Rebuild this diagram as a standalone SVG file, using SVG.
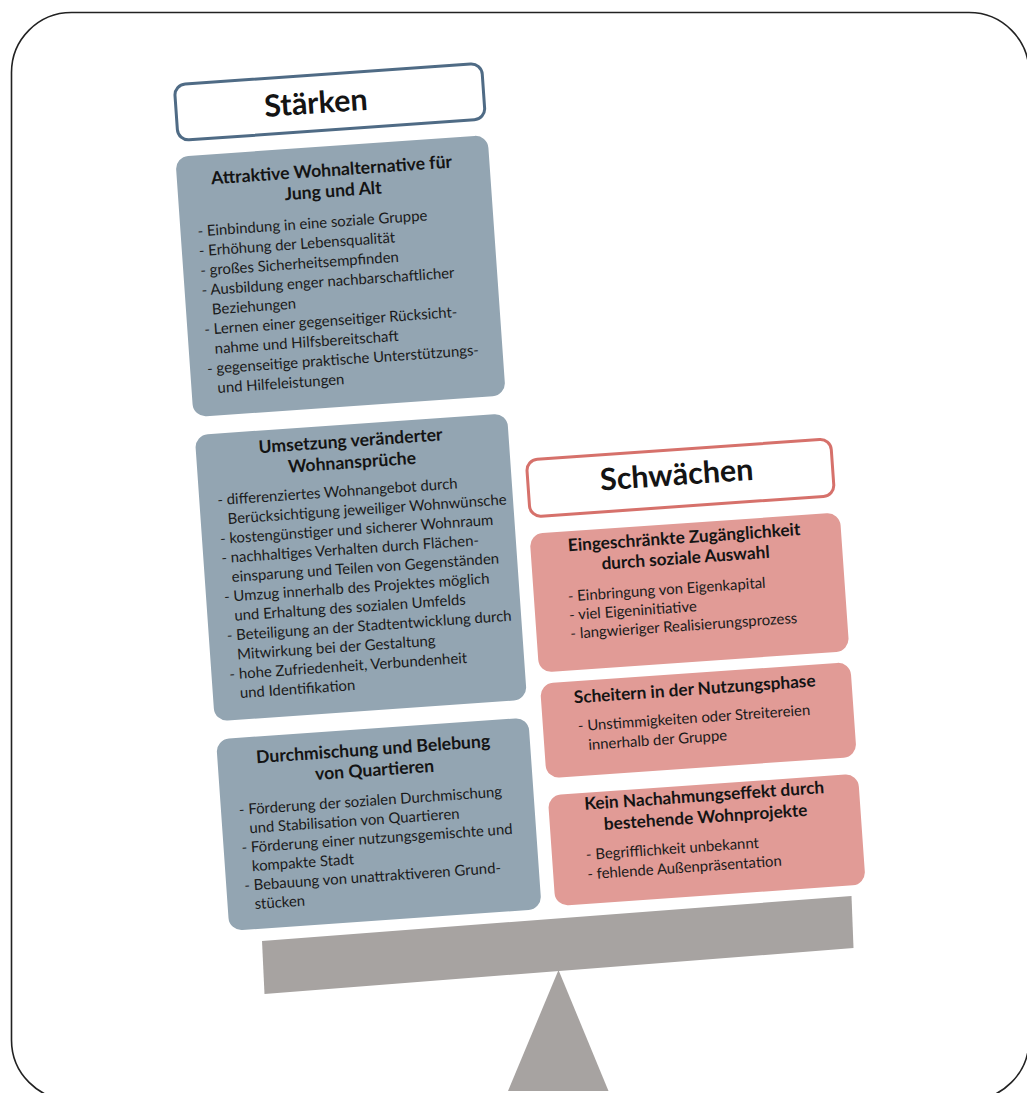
<svg xmlns="http://www.w3.org/2000/svg" width="1027" height="1093" viewBox="0 0 1027 1093">
<style>
.frame{fill:#ffffff;stroke:#222222;stroke-width:1.6}
.hdrS{fill:#ffffff;stroke:#4f6b85;stroke-width:3}
.hdrW{fill:#ffffff;stroke:#d6716b;stroke-width:3}
.boxS{fill:#93a5b2}
.boxW{fill:#e19b96}
.hdrT{font-family:Lato,"Liberation Sans",sans-serif;font-weight:bold;font-size:30.5px;fill:#141414;text-anchor:middle}
.ttl{font-family:Lato,"Liberation Sans",sans-serif;font-weight:bold;font-size:17.6px;fill:#141414;text-anchor:middle}
.ttlW{font-family:Lato,"Liberation Sans",sans-serif;font-weight:bold;font-size:17.2px;fill:#141414;text-anchor:middle}
.bd{font-family:Lato,"Liberation Sans",sans-serif;font-size:14.9px;fill:#1a1a1a}
.bal{fill:#a7a3a1}
</style>
<rect class="frame" x="11.5" y="12.5" width="1017.5" height="1087.5" rx="60" ry="60"/>
<g id="balance">
<polygon class="bal" points="262,941 851.5,896 853.5,948 264.5,994"/>
<polygon class="bal" points="558.5,970 608.5,1091 508,1091"/>
</g>
<g transform="rotate(-4 500 500)">
<g id="staerken-header">
<rect class="hdrS" x="204" y="63" width="308" height="56" rx="11" ry="11"/>
<text class="hdrT" x="344" y="101.5">Stärken</text>
</g>
<g id="staerke-1">
<rect class="boxS" x="200" y="135" width="313" height="261" rx="13" ry="13"/>
<text class="ttl" x="355" y="165">Attraktive Wohnalternative für</text>
<text class="ttl" x="355" y="186">Jung und Alt</text>
<text class="bd" x="217" y="216">- Einbindung in eine soziale Gruppe</text>
<text class="bd" x="217" y="235.7">- Erhöhung der Lebensqualität</text>
<text class="bd" x="217" y="255.4">- großes Sicherheitsempfinden</text>
<text class="bd" x="217" y="275.1">- Ausbildung enger nachbarschaftlicher</text>
<text class="bd" x="226" y="294.8">Beziehungen</text>
<text class="bd" x="217" y="314.5">- Lernen einer gegenseitiger Rücksicht-</text>
<text class="bd" x="226" y="334.2">nahme und Hilfsbereitschaft</text>
<text class="bd" x="217" y="353.9">- gegenseitige praktische Unterstützungs-</text>
<text class="bd" x="226" y="373.6">und Hilfeleistungen</text>
</g>
<g id="staerke-2">
<rect class="boxS" x="200" y="414" width="313" height="287" rx="13" ry="13"/>
<text class="ttl" x="355" y="436.5">Umsetzung veränderter</text>
<text class="ttl" x="355" y="458">Wohnansprüche</text>
<text class="bd" x="218" y="485.5">- differenziertes Wohnangebot durch</text>
<text class="bd" x="227" y="504.9">Berücksichtigung jeweiliger Wohnwünsche</text>
<text class="bd" x="218" y="524.3">- kostengünstiger und sicherer Wohnraum</text>
<text class="bd" x="218" y="543.7">- nachhaltiges Verhalten durch Flächen-</text>
<text class="bd" x="227" y="563.1">einsparung und Teilen von Gegenständen</text>
<text class="bd" x="218" y="582.5">- Umzug innerhalb des Projektes möglich</text>
<text class="bd" x="227" y="601.9">und Erhaltung des sozialen Umfelds</text>
<text class="bd" x="218" y="621.3">- Beteiligung an der Stadtentwicklung durch</text>
<text class="bd" x="227" y="640.7">Mitwirkung bei der Gestaltung</text>
<text class="bd" x="218" y="660.1">- hohe Zufriedenheit, Verbundenheit</text>
<text class="bd" x="227" y="679.5">und Identifikation</text>
</g>
<g id="staerke-3">
<rect class="boxS" x="200" y="719" width="313" height="192" rx="13" ry="13"/>
<text class="ttl" x="356" y="745.6">Durchmischung und Belebung</text>
<text class="ttl" x="356" y="766.5">von Quartieren</text>
<text class="bd" x="218" y="796">- Förderung der sozialen Durchmischung</text>
<text class="bd" x="227" y="815">und Stabilisation von Quartieren</text>
<text class="bd" x="218" y="834">- Förderung einer nutzungsgemischte und</text>
<text class="bd" x="227" y="853">kompakte Stadt</text>
<text class="bd" x="218" y="872">- Bebauung von unattraktiveren Grund-</text>
<text class="bd" x="227" y="891">stücken</text>
</g>
<g id="schwaechen-header">
<rect class="hdrW" x="529" y="462" width="305" height="57" rx="11" ry="11"/>
<text class="hdrT" x="678" y="497.5">Schwächen</text>
</g>
<g id="schwaeche-1">
<rect class="boxW" x="527" y="536" width="311" height="139" rx="13" ry="13"/>
<text class="ttlW" x="681" y="556">Eingeschränkte Zugänglichkeit</text>
<text class="ttlW" x="681" y="576.5">durch soziale Auswahl</text>
<text class="bd" x="561" y="606">- Einbringung von Eigenkapital</text>
<text class="bd" x="561" y="624.7">- viel Eigeninitiative</text>
<text class="bd" x="561" y="643.4">- langwieriger Realisierungsprozess</text>
</g>
<g id="schwaeche-2">
<rect class="boxW" x="527" y="686" width="311" height="95" rx="13" ry="13"/>
<text class="ttlW" x="681" y="708">Scheitern in der Nutzungsphase</text>
<text class="bd" x="562" y="736">- Unstimmigkeiten oder Streitereien</text>
<text class="bd" x="571" y="755.5">innerhalb der Gruppe</text>
</g>
<g id="schwaeche-3">
<rect class="boxW" x="527" y="798" width="311" height="111" rx="13" ry="13"/>
<text class="ttlW" x="683" y="815">Kein Nachahmungseffekt durch</text>
<text class="ttlW" x="683" y="836.5">bestehende Wohnprojekte</text>
<text class="bd" x="561" y="865">- Begrifflichkeit unbekannt</text>
<text class="bd" x="561" y="884.5">- fehlende Außenpräsentation</text>
</g>
</g>
</svg>
